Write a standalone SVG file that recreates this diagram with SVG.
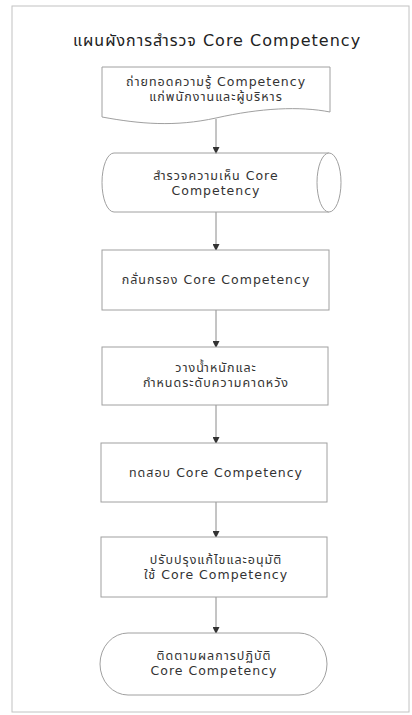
<svg xmlns="http://www.w3.org/2000/svg" width="412" height="715" viewBox="0 0 412 715">
<defs>
<style>
.shape{fill:#fff;stroke:#a0a0a0;stroke-width:1}
.frame{fill:#fff;stroke:#c2c2c2;stroke-width:1}
.con{fill:none;stroke:#8a8a8a;stroke-width:1}
.t{font-family:"DejaVu Sans","Noto Sans Thai","Noto Sans",sans-serif;font-size:12.5px;fill:#333;text-anchor:middle;letter-spacing:1px}
.title{font-family:"DejaVu Sans","Noto Sans Thai","Noto Sans",sans-serif;font-size:16px;fill:#222;text-anchor:middle;letter-spacing:1px}
</style>
<marker id="ah" markerWidth="7" markerHeight="7" refX="6" refY="3.5" orient="auto" markerUnits="userSpaceOnUse">
<path d="M0,0 L7,3.5 L0,7 Z" fill="#333"/>
</marker>
</defs>
<rect width="412" height="715" fill="#fff"/>
<rect class="frame" x="12" y="6" width="397" height="706"/>
<text class="title" x="217" y="46">แผนผังการสำรวจ Core Competency</text>

<g id="connectors">
<line class="con" x1="216" y1="119" x2="216" y2="153" marker-end="url(#ah)"/>
<line class="con" x1="216" y1="212" x2="216" y2="250" marker-end="url(#ah)"/>
<line class="con" x1="216" y1="310" x2="216" y2="347" marker-end="url(#ah)"/>
<line class="con" x1="216" y1="405" x2="216" y2="443" marker-end="url(#ah)"/>
<line class="con" x1="216" y1="502" x2="216" y2="537" marker-end="url(#ah)"/>
<line class="con" x1="216" y1="597" x2="216" y2="633" marker-end="url(#ah)"/>
</g>

<g id="n1">
<path class="shape" d="M102,67 H330 V112 C300,106 260,108 216,118 C175,127 140,124 102,117 Z"/>
<text class="t" x="216" y="86">ถ่ายทอดความรู้ Competency</text>
<text class="t" x="216" y="101">แก่พนักงานและผู้บริหาร</text>
</g>

<g id="n2">
<path class="shape" d="M114,153 H329 M329,212 H114 A12,29.5 0 0 1 114,153"/>
<ellipse class="shape" cx="329" cy="182.5" rx="12" ry="29.5"/>
<text class="t" x="216" y="180">สำรวจความเห็น Core</text>
<text class="t" x="216" y="195">Competency</text>
</g>

<g id="n3">
<rect class="shape" x="102" y="250" width="227" height="60"/>
<text class="t" x="216" y="284">กลั่นกรอง Core Competency</text>
</g>

<g id="n4">
<rect class="shape" x="102" y="347" width="226" height="58"/>
<text class="t" x="216" y="372">วางน้ำหนักและ</text>
<text class="t" x="216" y="387">กำหนดระดับความคาดหวัง</text>
</g>

<g id="n5">
<rect class="shape" x="101" y="443" width="226" height="59"/>
<text class="t" x="216" y="477">ทดสอบ Core Competency</text>
</g>

<g id="n6">
<rect class="shape" x="101" y="537" width="226" height="60"/>
<text class="t" x="216" y="564">ปรับปรุงแก้ไขและอนุมัติ</text>
<text class="t" x="216" y="579">ใช้ Core Competency</text>
</g>

<g id="n7">
<rect class="shape" x="100" y="633" width="227" height="62" rx="28" ry="31"/>
<text class="t" x="214" y="660">ติดตามผลการปฏิบัติ</text>
<text class="t" x="214" y="675">Core Competency</text>
</g>
</svg>
